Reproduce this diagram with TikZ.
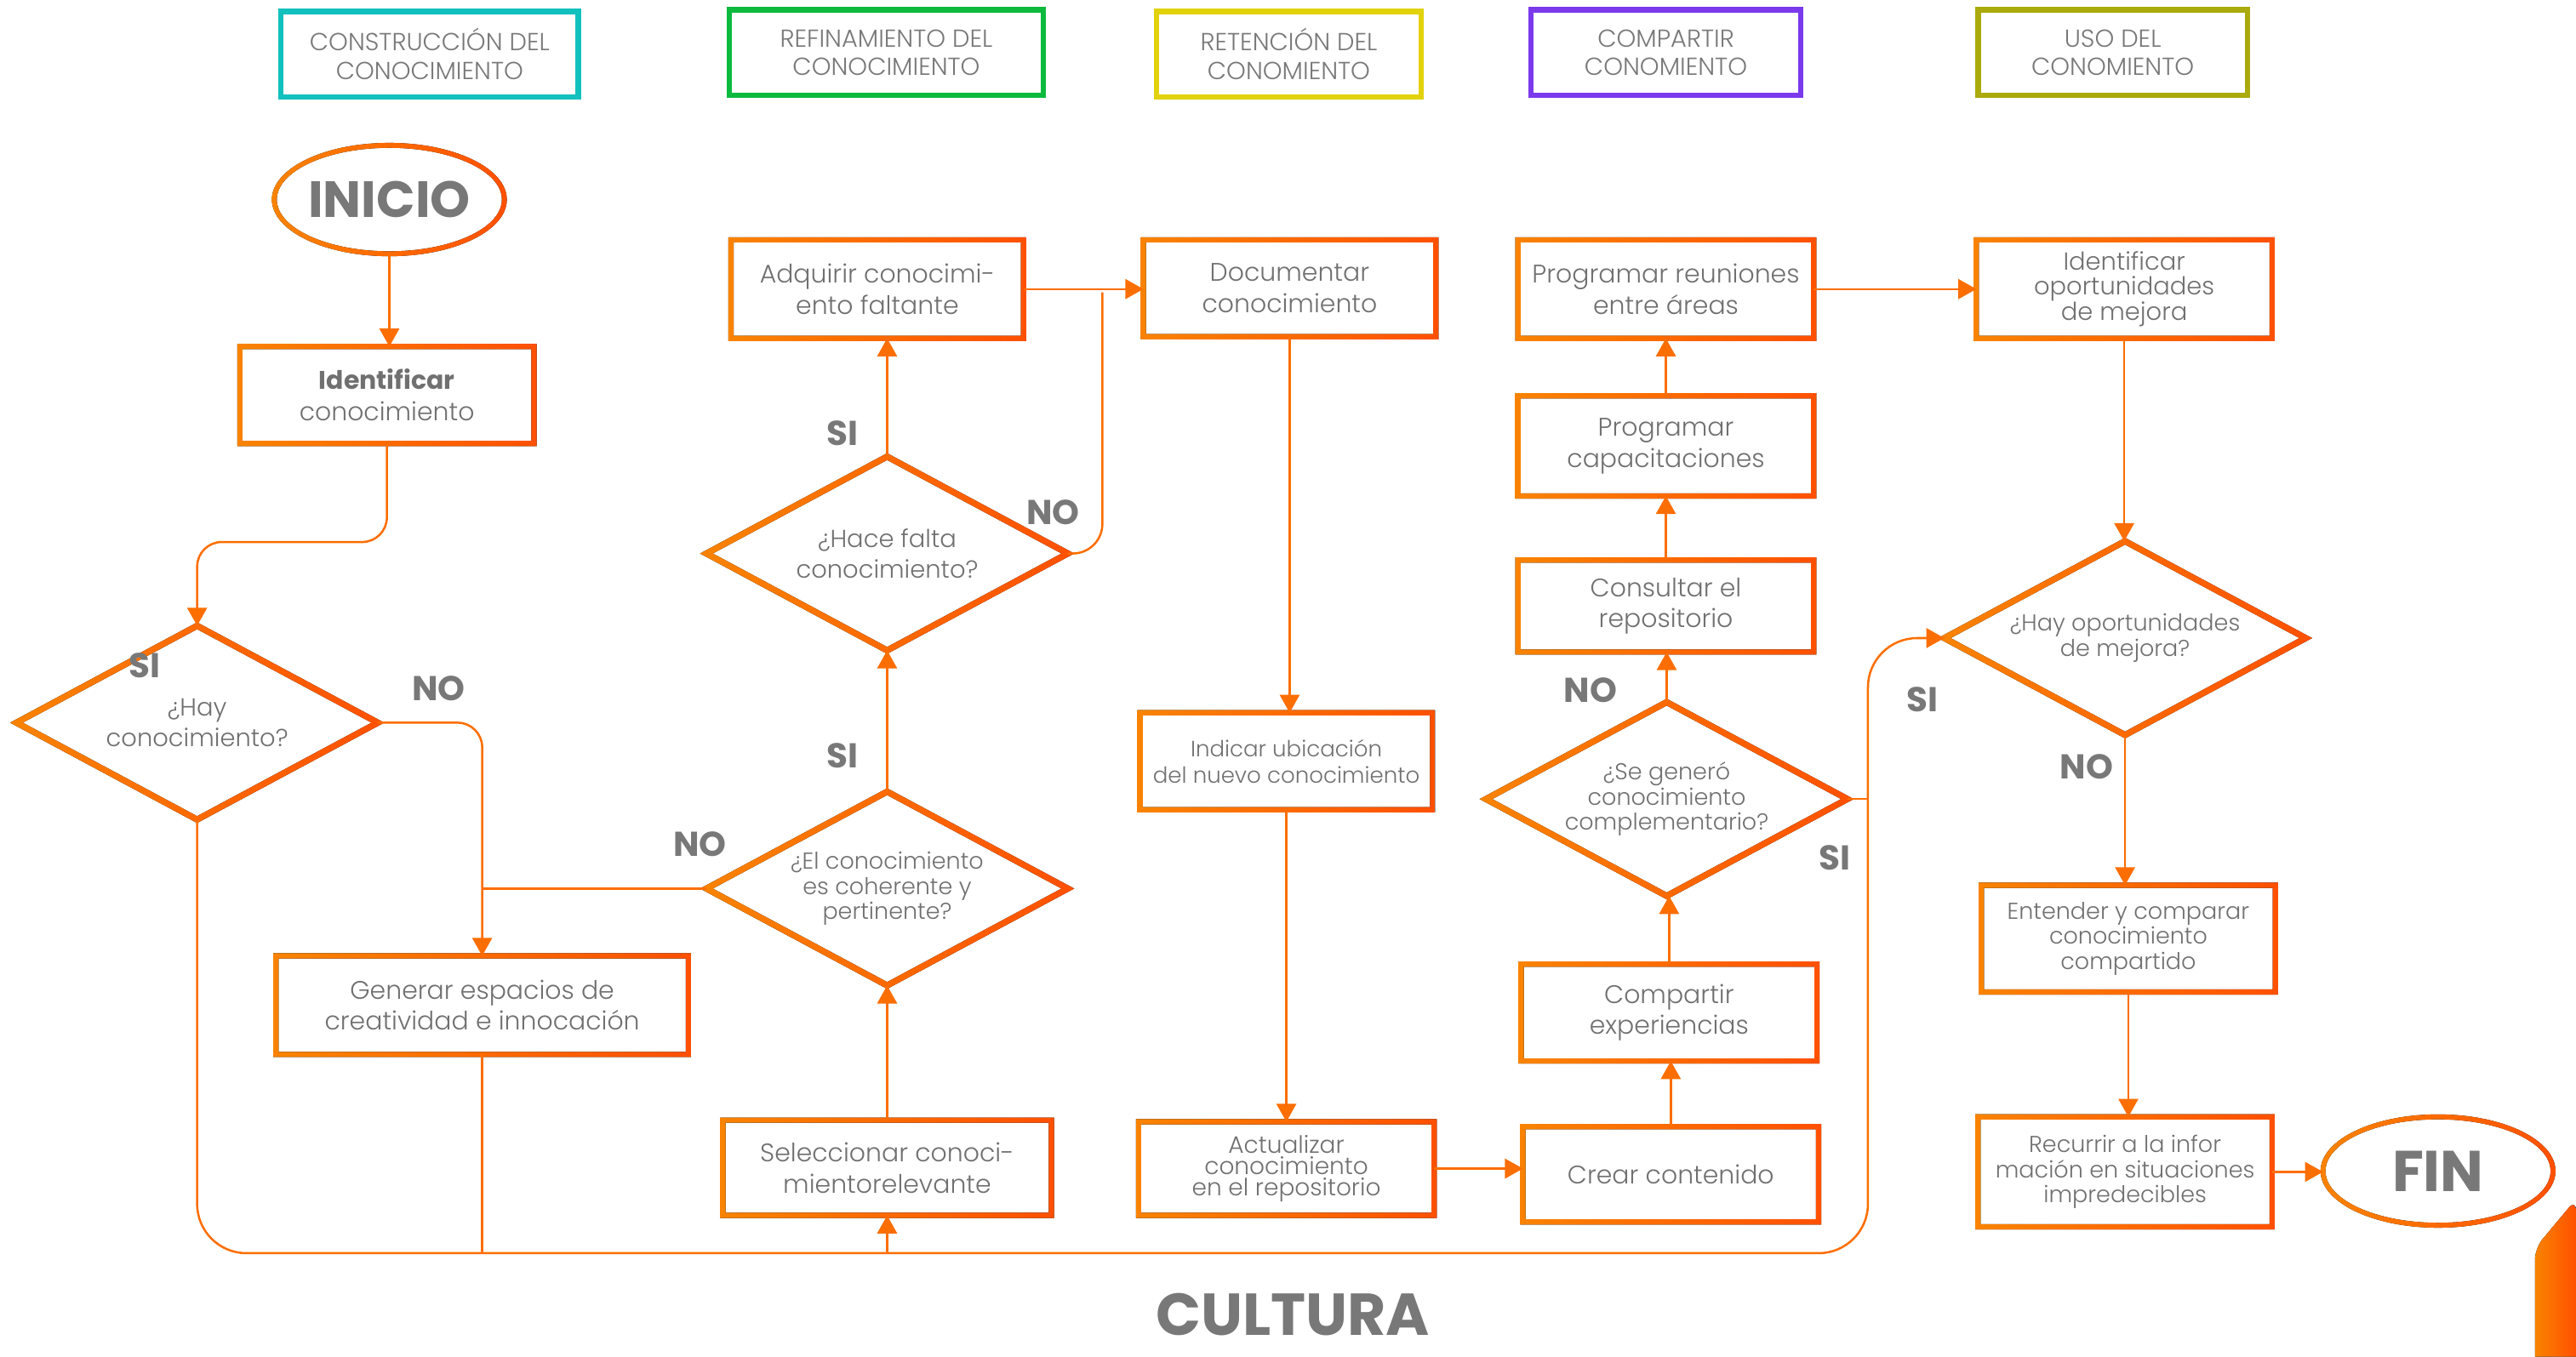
\documentclass[tikz,border=0pt]{standalone}
\usepackage{fontspec}
\setmainfont{Poppins Light}[BoldFont={Poppins Bold}]
\usetikzlibrary{shapes.geometric,arrows.meta,calc}
\definecolor{oL}{HTML}{F98300}
\definecolor{oR}{HTML}{FF5000}
\definecolor{oM}{HTML}{FC6E00}
\definecolor{tg}{HTML}{707070}
\definecolor{lg}{HTML}{787878}
\definecolor{hcA}{HTML}{12C0BD}
\definecolor{hcB}{HTML}{0DBA3E}
\definecolor{hcC}{HTML}{E2D20B}
\definecolor{hcD}{HTML}{7B3AEC}
\definecolor{hcE}{HTML}{AAAA0C}
\newcommand\gbx[1]{\fill[left color=oL,right color=oR,even odd rule] ([xshift=-1.6pt,yshift=1.6pt]#1.north west) rectangle ([xshift=1.6pt,yshift=-1.6pt]#1.south east) ([xshift=1.6pt,yshift=-1.6pt]#1.north west) rectangle ([xshift=-1.6pt,yshift=1.6pt]#1.south east);}
\newcommand\gdi[1]{\fill[left color=oL,right color=oR,even odd rule] ([yshift=2.1pt]#1.north) -- ([xshift=3.9pt]#1.east) -- ([yshift=-2.1pt]#1.south) -- ([xshift=-3.9pt]#1.west) -- cycle ([yshift=-2.1pt]#1.north) -- ([xshift=-3.9pt]#1.east) -- ([yshift=2.1pt]#1.south) -- ([xshift=3.9pt]#1.west) -- cycle;}
\newcommand\gel[1]{\fill[left color=oL,right color=oR,even odd rule] (#1.center) ellipse [x radius=71.5pt,y radius=34.5pt] (#1.center) ellipse [x radius=68.5pt,y radius=31.5pt];}
\begin{document}
\begin{tikzpicture}[x=1pt,y=-1pt,
  every node/.style={inner sep=0pt,outer sep=0pt},
  box/.style={rectangle,align=center,text=tg,font=\fontsize{15.5}{19}\selectfont},
  cbox/.style={box,font=\fontsize{14}{15.3}\selectfont},
  dia/.style={diamond,aspect=1.88,align=center,text=tg,minimum width=220pt,minimum height=118pt,font=\fontsize{15}{19}\selectfont},
  cdia/.style={dia,font=\fontsize{14}{15.3}\selectfont},
  ell/.style={ellipse,minimum width=140pt,minimum height=66pt,text=lg},
  hdr/.style={rectangle,line width=3.3pt,align=center,text=lg,minimum height=52pt,font=\fontsize{15}{17.5}\selectfont},
  lbl/.style={text=lg,font=\fontsize{21}{21}\bfseries},
  con/.style={draw=oM,line width=1.3pt},
  arr/.style={con,-{Triangle[width=12pt,length=11pt]}}]
\fill[white] (0,0) rectangle (1568,826);
\useasboundingbox (0,0) rectangle (1568,826);

% headers
\node[hdr,draw=hcA,minimum width=181pt] (hA) at (261.5,33) {CONSTRUCCIÓN DEL\\CONOCIMIENTO};
\node[hdr,draw=hcB,minimum width=191pt] (hB) at (539.5,32) {REFINAMIENTO DEL\\CONOCIMIENTO};
\node[hdr,draw=hcC,minimum width=161pt] (hC) at (784.5,33) {RETENCIÓN DEL\\CONOMIENTO};
\node[hdr,draw=hcD,minimum width=164pt] (hD) at (1014,32) {COMPARTIR\\CONOMIENTO};
\node[hdr,draw=hcE,minimum width=164pt] (hE) at (1286,32) {USO DEL\\CONOMIENTO};

% terminals
\node[ell,font=\fontsize{31}{31}\bfseries] (inicio) at (237,121.5) {INICIO};
\node[ell,font=\fontsize{35}{35}\bfseries] (fin) at (1484,713) {FIN};

% construccion
\node[box,minimum width=179pt,minimum height=59pt] (ident) at (235.5,240.5) {\textbf{Identificar}\\conocimiento};
\node[dia] (dA) at (120,440) {¿Hay\\conocimiento?};
\node[box,minimum width=251pt,minimum height=60pt] (gen) at (293.5,612) {Generar espacios de\\creatividad e innocación};

% refinamiento
\node[box,minimum width=200pt,minimum height=58pt] (sel) at (540,711) {Seleccionar conoci-\\mientorelevante};
\node[cdia] (dB) at (540,541) {¿El conocimiento\\es coherente y\\pertinente?};
\node[dia] (dC) at (540,337) {¿Hace falta\\conocimiento?};
\node[box,minimum width=178pt,minimum height=60pt] (adq) at (534,176) {Adquirir conocimi-\\ento faltante};

% retencion
\node[box,minimum width=178pt,minimum height=59pt] (doc) at (785,175.5) {Documentar\\conocimiento};
\node[box,font=\fontsize{13.5}{16}\selectfont,minimum width=178pt,minimum height=59pt] (ind) at (783,463.5) {Indicar ubicación\\del nuevo conocimiento};
\node[box,font=\fontsize{14.5}{12.8}\selectfont,minimum width=180pt,minimum height=57pt] (act) at (783,711.5) {Actualizar\\conocimiento\\en el repositorio};

% compartir
\node[box,minimum width=180pt,minimum height=58pt] (crear) at (1017,715) {Crear contenido};
\node[box,minimum width=180pt,minimum height=59pt] (comp) at (1016,616.5) {Compartir\\experiencias};
\node[cdia] (dD) at (1014.5,486.5) {¿Se generó\\conocimiento\\complementario?};
\node[box,minimum width=180pt,minimum height=56pt] (cons) at (1014,369) {Consultar el\\repositorio};
\node[box,minimum width=180pt,minimum height=61pt] (prog) at (1014,271.5) {Programar\\capacitaciones};
\node[box,minimum width=180pt,minimum height=60pt] (reun) at (1014,176) {Programar reuniones\\entre áreas};

% uso
\node[box,font=\fontsize{15}{15.3}\selectfont,minimum width=180pt,minimum height=60pt] (idop) at (1293,176) {Identificar\\oportunidades\\de mejora};
\node[cdia] (dE) at (1293.5,388.5) {¿Hay oportunidades\\de mejora?};
\node[cbox,minimum width=179pt,minimum height=65pt] (ent) at (1295.5,571.5) {Entender y comparar\\conocimiento\\compartido};
\node[cbox,minimum width=179pt,minimum height=67pt] (rec) at (1293.5,713.5) {Recurrir a la infor\\mación en situaciones\\impredecibles};

% gradient borders
\gel{inicio}\gel{fin}
\gbx{ident}\gbx{gen}\gbx{sel}\gbx{adq}\gbx{doc}\gbx{ind}\gbx{act}
\gbx{crear}\gbx{comp}\gbx{cons}\gbx{prog}\gbx{reun}\gbx{idop}\gbx{ent}\gbx{rec}
\gdi{dA}\gdi{dB}\gdi{dC}\gdi{dD}\gdi{dE}

% connectors
\coordinate (busR) at (1137,763);
\coordinate (nj) at (671,178);
\draw[arr] (inicio.south) -- (inicio.south |- ident.north);
\draw[arr,rounded corners=15pt] (ident.south) -- ++(0,60) -| (dA.north);
\draw[arr,rounded corners=15pt] (dA.east) -| (gen.north);
\draw[con] (dB.west) -- (dB.west -| gen.north);
\draw[arr,rounded corners=30pt] (dA.south) |- (busR) |- (dE.west);
\draw[con] (gen.south) -- (gen.south |- busR);
\draw[arr] (sel.south |- busR) -- (sel.south);
\draw[arr] (sel.north) -- (dB.south);
\draw[arr] (dB.north) -- (dC.south);
\draw[arr] (dC.north) -- (dC.north |- adq.south);
\draw[arr] (adq.east) -- (adq.east -| doc.west);
\draw[con,rounded corners=18pt] (dC.east) -| (nj);
\draw[arr] (doc.south) -- (doc.south |- ind.north);
\draw[arr] (ind.south) -- (ind.south |- act.north);
\draw[arr] (act.east) -- (act.east -| crear.west);
\draw[arr] (crear.north) -- (crear.north |- comp.south);
\draw[arr] (comp.north) -- (comp.north |- dD.south);
\draw[arr] (dD.north) -- (dD.north |- cons.south);
\draw[arr] (cons.north) -- (cons.north |- prog.south);
\draw[arr] (prog.north) -- (prog.north |- reun.south);
\draw[arr] (reun.east) -- (reun.east -| idop.west);
\draw[con] (dD.east) -- (dD.east -| busR);
\draw[arr] (idop.south) -- (idop.south |- dE.north);
\draw[arr] (dE.south) -- (dE.south |- ent.north);
\draw[arr] (ent.south) -- (ent.south |- rec.north);
\draw[arr] (rec.east) -- (rec.east -| fin.west);

% labels
\node[lbl] (lsiA) at (88,405) {SI};
\node[lbl] (lnoA) at (267,419) {NO};
\node[lbl] (lnoB) at (426,514) {NO};
\node[lbl] (lsiB) at (513,460) {SI};
\node[lbl] (lsiC) at (513,264) {SI};
\node[lbl] (lnoC) at (641,312) {NO};
\node[lbl] (lnoD) at (968,420) {NO};
\node[lbl] (lsiD) at (1117,522) {SI};
\node[lbl] (lsiE) at (1170,426) {SI};
\node[lbl] (lnoE) at (1270,467) {NO};

\node[text=lg,font=\fontsize{36}{36}\bfseries,anchor=base] (cultura) at (787,813) {CULTURA};

% corner decoration
\fill[left color=oL,right color=oR] (1543,826) [rounded corners=7pt] -- (1543,760) -- (1568,730) [sharp corners] -- (1568,826) -- cycle;
\end{tikzpicture}
\end{document}
